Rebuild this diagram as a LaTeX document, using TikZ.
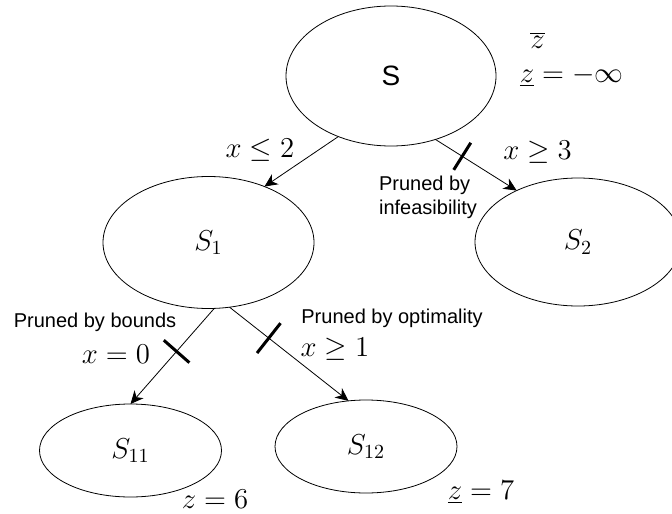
\documentclass[tikz,border=0pt]{standalone}
\usepackage{fontspec}
\setsansfont{Liberation Sans}
\usetikzlibrary{shapes.geometric, arrows.meta}

\begin{document}
\begin{tikzpicture}[
    x=0.5pt, y=-0.5pt,
    subset/.style={draw, thin, ellipse, inner sep=0pt, outer sep=0pt, font=\fontsize{14.4}{17}\selectfont},
    branch/.style={-{Stealth[length=6.5pt, width=6pt, inset=2pt]}, thin},
    cut/.style={sloped, fill=black, draw=none, minimum width=1.5pt, minimum height=17pt, inner sep=0pt, outer sep=0pt},
    cond/.style={font=\fontsize{14.4}{17}\selectfont, inner sep=1pt},
    note/.style={font=\sffamily\fontsize{10}{12}\selectfont, inner sep=1pt}
]
\useasboundingbox (0,0) rectangle (672,513);

% ----------------- nodes of the tree -----------------
\node[subset, minimum width=105pt, minimum height=70pt, font=\sffamily\fontsize{14}{17}\selectfont] (S) at (391,76) {S};
\node[subset, minimum width=105.5pt, minimum height=66pt] (S1) at (208.5,242.5) {$S_1$};
\node[subset, minimum width=103pt, minimum height=64pt]   (S2) at (578,242)     {$S_2$};
\node[subset, minimum width=91pt, minimum height=46.5pt]  (S11) at (130.5,450.5) {$S_{11}$};
\node[subset, minimum width=91pt, minimum height=46.5pt]  (S12) at (366,446.5)   {$S_{12}$};

% ----------------- branching arrows -----------------
\draw[branch] (S.229)  -- (S1.45);
\draw[branch] (S.305)  -- node[cut, pos=0.33, minimum height=16pt] {} (S2.140);
\draw[branch] (S1.275) -- node[cut, pos=0.45] {} (S11.90);
\draw[branch] (S1.288) -- node[cut, pos=0.33, minimum height=19pt] {} (S12.111);

% ----------------- branching conditions -----------------
\node[cond] (cS1)  at (260,150)   {$x \le 2$};
\node[cond] (cS2)  at (537.5,152) {$x \ge 3$};
\node[cond] (cS11) at (116,354)   {$x = 0$};
\node[cond] (cS12) at (335,349)   {$x \ge 1$};

% ----------------- pruning notes -----------------
\node[note, align=left] (infeas) at (428,197) {Pruned by\\infeasibility};
\node[note] (bounds) at (95,322)  {Pruned by bounds};
\node[note] (optim)  at (392,318) {Pruned by optimality};

% ----------------- bounds -----------------
\node[cond] (zup)  at (537.5,40) {$\overline{z}$};
\node[cond] (zlow) at (571.5,76) {$\underline{z} = -\infty$};
\node[cond] (z11)  at (215,499)  {$z = 6$};
\node[cond] (z12)  at (481,492)  {$\underline{z} = 7$};

\end{tikzpicture}
\end{document}
